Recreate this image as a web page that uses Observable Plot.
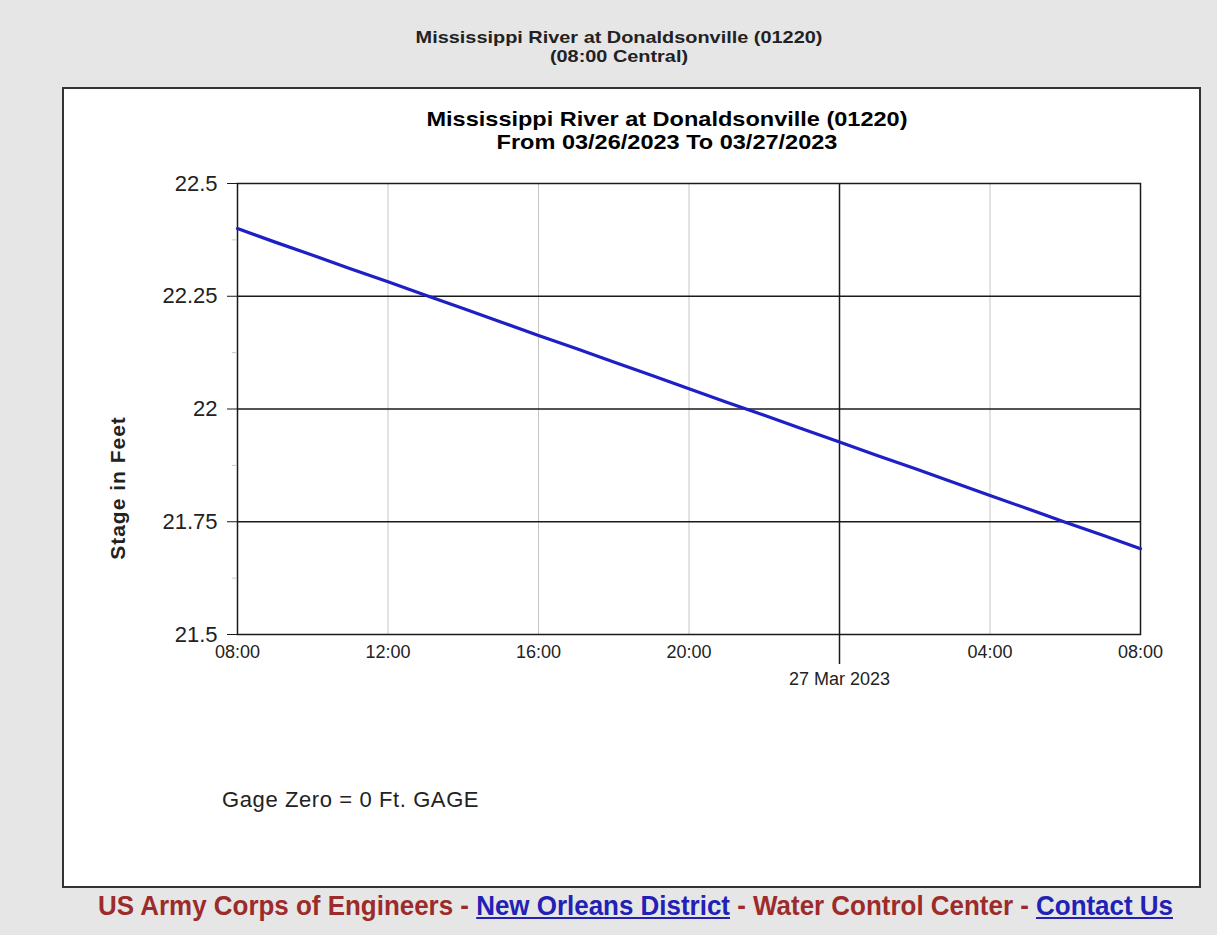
<!DOCTYPE html>
<html>
<head>
<meta charset="utf-8">
<script src="https://cdn.jsdelivr.net/npm/d3@7"></script>
<script src="https://cdn.jsdelivr.net/npm/@observablehq/plot@0.6"></script>
<style>
  html, body { margin: 0; padding: 0; background: #e6e6e6; }
  #page { position: relative; width: 1217px; height: 935px; font-family: "Liberation Sans", Arial, sans-serif; overflow: hidden; }
  .abs { position: absolute; white-space: nowrap; }
  #toptitle { left: 19px; width: 1200px; top: 28px; text-align: center; font-weight: bold; font-size: 17px; line-height: 19px; color: #222; transform: scaleX(1.17); transform-origin: 600px 0; }
  #panel { left: 62px; top: 87px; width: 1139px; height: 801px; box-sizing: border-box; background: #fff; border: 2px solid #333; }
  #chart { left: 63px; top: 88px; }
  #innertitle { left: 97px; width: 1140px; top: 107px; text-align: center; font-weight: bold; font-size: 21px; line-height: 23px; color: #000; transform: scaleX(1.12); transform-origin: 570px 0; }
  #ylabel { left: 118px; top: 488px; transform: translate(-50%, -50%) rotate(-90deg); font-weight: bold; font-size: 21px; letter-spacing: 1px; color: #222; }
  #gage { left: 222px; top: 787px; font-size: 22px; color: #222; letter-spacing: 0.6px; }
  #footer { left: 98px; top: 890px; font-family: "Liberation Sans Narrow", "Arial Narrow", "Liberation Sans", Arial, sans-serif; font-weight: bold; font-size: 28px; color: #9c2b2b; transform-origin: 0 0; }
  #footer a { color: #2121b5; text-decoration: underline; }
</style>
</head>
<body>
<div id="page">
  <div id="toptitle" class="abs">Mississippi River at Donaldsonville (01220)<br>(08:00 Central)</div>
  <div id="panel" class="abs"></div>
  <div id="chart" class="abs"></div>
  <div id="innertitle" class="abs">Mississippi River at Donaldsonville (01220)<br>From 03/26/2023 To 03/27/2023</div>
  <div id="ylabel" class="abs">Stage in Feet</div>
  <div id="gage" class="abs">Gage Zero = 0 Ft. GAGE</div>
  <div id="footer" class="abs">US Army Corps of Engineers - <a>New Orleans District</a> - Water Control Center - <a>Contact Us</a></div>
</div>
<script>
// Hourly readings, 03/26/2023 08:00 to 03/27/2023 08:00 (Central)
const times = [
  "2023-03-26T08:00Z","2023-03-26T09:00Z","2023-03-26T10:00Z","2023-03-26T11:00Z",
  "2023-03-26T12:00Z","2023-03-26T13:00Z","2023-03-26T14:00Z","2023-03-26T15:00Z",
  "2023-03-26T16:00Z","2023-03-26T17:00Z","2023-03-26T18:00Z","2023-03-26T19:00Z",
  "2023-03-26T20:00Z","2023-03-26T21:00Z","2023-03-26T22:00Z","2023-03-26T23:00Z",
  "2023-03-27T00:00Z","2023-03-27T01:00Z","2023-03-27T02:00Z","2023-03-27T03:00Z",
  "2023-03-27T04:00Z","2023-03-27T05:00Z","2023-03-27T06:00Z","2023-03-27T07:00Z",
  "2023-03-27T08:00Z"
];
const stage = [
  22.400, 22.370, 22.341, 22.311, 22.282, 22.252, 22.223, 22.193,
  22.163, 22.134, 22.104, 22.075, 22.045, 22.015, 21.986, 21.956,
  21.927, 21.897, 21.868, 21.838, 21.808, 21.779, 21.749, 21.720,
  21.690
];
const yTicks = [21.5, 21.75, 22, 22.25, 22.5];
const yMinor = [21.625, 21.875, 22.125, 22.375];
const yGrid = [21.75, 22, 22.25];
const xTickLabels = ["2023-03-26T08:00Z","2023-03-26T12:00Z","2023-03-26T16:00Z","2023-03-26T20:00Z","2023-03-27T04:00Z","2023-03-27T08:00Z"];
const xGrayGrid = ["2023-03-26T12:00Z","2023-03-26T16:00Z","2023-03-26T20:00Z","2023-03-27T04:00Z"];
const dayMark = ["2023-03-27T00:00Z"];
const dayLabel = "27 Mar 2023";

const data = times.map((t, i) => ({time: new Date(t), stage: stage[i]}));
const toDates = a => a.map(s => new Date(s));
const hm = d3.utcFormat("%H:%M");

const chart = Plot.plot({
  width: 1137,
  height: 799,
  marginLeft: 174,
  marginTop: 95,
  marginRight: 60,
  marginBottom: 253,
  style: {fontFamily: "'Liberation Sans', Arial, sans-serif", background: "transparent", color: "#222", overflow: "visible"},
  x: {type: "utc", domain: [new Date(times[0]), new Date(times[times.length - 1])]},
  y: {domain: [21.5, 22.5]},
  marks: [
    Plot.ruleX(toDates(xGrayGrid), {stroke: "#c6c6c6", strokeWidth: 1}),
    Plot.ruleY(yGrid, {stroke: "#1a1a1a", strokeWidth: 1.5}),
    Plot.ruleX(toDates(dayMark), {stroke: "#1a1a1a", strokeWidth: 1.5}),
    Plot.frame({stroke: "#1a1a1a", strokeWidth: 1.5}),
    Plot.axisY({ticks: yMinor, tickSize: 5, tickFormat: () => "", stroke: "#c8c8c8", label: null}),
    Plot.axisY({ticks: yTicks, tickSize: 10, tickPadding: 10, tickFormat: d => String(d), fontSize: 22, stroke: "#1a1a1a", label: null}),
    Plot.axisX({ticks: toDates(xTickLabels), tickSize: 0, tickPadding: 11, tickFormat: hm, fontSize: 18, label: null, style: {letterSpacing: "1px"}}),
    Plot.axisX({ticks: toDates(dayMark), tickSize: 30, tickFormat: () => "", stroke: "#1a1a1a", strokeWidth: 1.5, label: null}),
    Plot.axisX({ticks: toDates(dayMark), tickSize: 0, tickPadding: 38, tickFormat: () => dayLabel, fontSize: 18, label: null, style: {letterSpacing: "1.5px"}}),
    Plot.line(data, {x: "time", y: "stage", stroke: "#1f1fc6", strokeWidth: 3.2})
  ]
});
document.getElementById("chart").appendChild(chart);

// fit footer to the reference span (x 98 to 1173)
const footer = document.getElementById("footer");
const w = footer.getBoundingClientRect().width;
footer.style.transform = `scaleX(${1075 / w})`;
</script>
</body>
</html>
